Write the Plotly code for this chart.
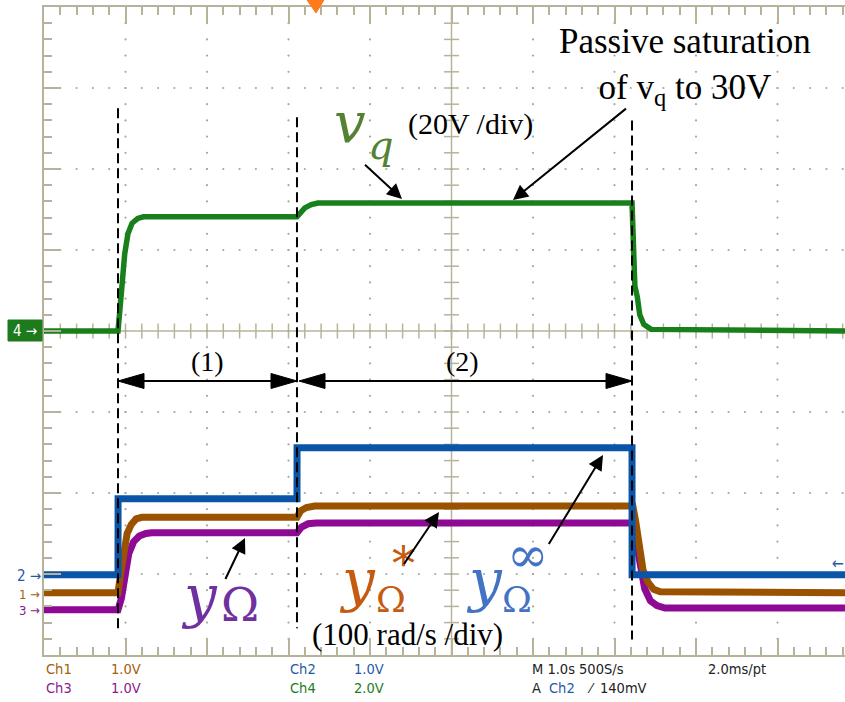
import plotly.graph_objects as go

# ---------------- data (scope screen, 1 s/div, values in divisions) ----------------
t_ch4 = [0, 0.908, 0.93, 0.96, 0.99, 1.03, 1.08, 1.15, 1.22, 3.104, 3.14, 3.2, 3.28, 3.36,
         7.215, 7.225, 7.25, 7.28, 7.31, 7.36, 7.45, 9.83]
v_ch4 = [0.0, 0.0, 0.25, 0.65, 0.95, 1.2, 1.33, 1.39, 1.41, 1.41, 1.46, 1.52, 1.56, 1.58,
         1.58, 1.2, 0.55, 0.42, 0.2, 0.08, 0.02, 0.0]

t_ch2 = [0, 0.908, 0.909, 3.104, 3.105, 7.215, 7.216, 9.83]
v_ch2 = [-3.01, -3.01, -2.07, -2.07, -1.44, -1.44, -3.01, -3.01]

t_ch1 = [0, 0.908, 0.94, 0.98, 1.02, 1.07, 1.13, 1.2, 3.104, 3.15, 3.22, 3.32,
         7.225, 7.26, 7.3, 7.35, 7.41, 7.48, 7.56, 9.83]
v_ch1 = [-3.23, -3.23, -3.0, -2.7, -2.5, -2.39, -2.32, -2.3, -2.3, -2.22, -2.18, -2.16,
         -2.16, -2.35, -2.7, -2.95, -3.1, -3.19, -3.22, -3.23]

t_ch3 = [0, 0.908, 0.95, 0.99, 1.04, 1.1, 1.17, 1.25, 1.32, 3.104, 3.16, 3.24, 3.34,
         7.225, 7.26, 7.31, 7.37, 7.44, 7.52, 7.62, 9.83]
v_ch3 = [-3.44, -3.44, -3.3, -3.0, -2.75, -2.6, -2.53, -2.5, -2.49, -2.49, -2.42, -2.38, -2.37,
         -2.37, -2.55, -2.9, -3.18, -3.33, -3.39, -3.42, -3.42]

event_times = [0.908, 3.104, 7.215]
event_tops = [2.75, 2.64, 2.60]
event_bottoms = [-3.67, -3.67, -3.81]

bottom_row1 = [("Ch1", "orange"), ("1.0V", "orange"), ("Ch2", "blue"), ("1.0V", "blue"),
               ("M 1.0s 500S/s", "black"), ("2.0ms/pt", "black")]
bottom_row2 = [("Ch3", "purple"), ("1.0V", "purple"), ("Ch4", "green"), ("2.0V", "green"),
               ("A", "black"), ("Ch2", "blue"), ("⁄", "black"), ("140mV", "black")]

# ---------------- geometry / style ----------------
W, H = 845, 702
L, R, T, B = 44, 0, 7, 47
PW, PH = W - L - R, H - T - B
DIVX = 81.5
XMAX = PW / DIVX


def px(x):
    return (x - L) / PW


def py(y):
    return (H - B - y) / PH


C_GRAT = "#b7b39b"
C_DOT = "#a8a8a0"
COL = {"orange": "#a5600a", "blue": "#1f5aa8", "purple": "#8c1a8c", "green": "#237d23", "black": "#222222"}

fig = go.Figure()

# graticule: centre cross with ticks
gx, gy = [], []


def seg(x0, y0, x1, y1):
    gx.extend([x0, x1, None])
    gy.extend([y0, y1, None])


seg(5, -4, 5, 4)
seg(0, 0, 10, 0)
tx = 7.5 / DIVX
ty = 7.5 / 81
for k in range(1, 40):
    yy = -4 + 0.2 * k
    seg(5 - tx, yy, 5 + tx, yy)
for k in range(1, 50):
    xx = 0.2 * k
    seg(xx, -ty, xx, ty)
fig.add_trace(go.Scatter(x=gx, y=gy, mode="lines", line=dict(color=C_GRAT, width=1.5),
                         hoverinfo="skip", showlegend=False))

dx, dy = [], []
for i in range(1, 10):
    if i == 5:
        continue
    for k in range(1, 40):
        dx.append(i)
        dy.append(-4 + 0.2 * k)
for j in range(-3, 4):
    if j == 0:
        continue
    for k in range(1, 50):
        dx.append(0.2 * k)
        dy.append(j)
fig.add_trace(go.Scatter(x=dx, y=dy, mode="markers", marker=dict(color=C_DOT, size=2.2),
                         hoverinfo="skip", showlegend=False))

# traces
fig.add_trace(go.Scatter(x=t_ch4, y=v_ch4, mode="lines", line=dict(color="#17801a", width=5.5),
                         showlegend=False, name="Ch4"))
fig.add_trace(go.Scatter(x=t_ch3, y=v_ch3, mode="lines", line=dict(color="#8e0a94", width=7),
                         showlegend=False, name="Ch3"))
fig.add_trace(go.Scatter(x=t_ch1, y=v_ch1, mode="lines", line=dict(color="#9a5200", width=7),
                         showlegend=False, name="Ch1"))
fig.add_trace(go.Scatter(x=t_ch2, y=v_ch2, mode="lines", line=dict(color="#0a55a8", width=7),
                         showlegend=False, name="Ch2"))

shapes = []
# dashed event lines
for t, y0, y1 in zip(event_times, event_tops, event_bottoms):
    shapes.append(dict(type="line", xref="x", yref="y", x0=t, x1=t, y0=y0, y1=y1,
                       line=dict(color="black", width=2, dash="10px,5px")))


def tri(tip, base_x, half):
    x0, y0 = tip
    return dict(type="path", xref="paper", yref="paper",
                path=f"M {px(x0)} {py(y0)} L {px(base_x)} {py(y0 - half)} L {px(base_x)} {py(y0 + half)} Z",
                fillcolor="black", line=dict(color="black", width=1))


# double arrows between event lines
ya = 381
for xa, xb in [(118, 297), (299, 632)]:
    shapes.append(dict(type="line", xref="paper", yref="paper", x0=px(xa + 10), x1=px(xb - 10),
                       y0=py(ya), y1=py(ya), line=dict(color="black", width=2)))
    shapes.append(tri((xa, ya), xa + 26, 7.5))
    shapes.append(tri((xb, ya), xb - 26, 7.5))

# channel 4 marker box
shapes.append(dict(type="rect", xref="paper", yref="paper", x0=px(8), x1=px(42), y0=py(341), y1=py(320),
                   fillcolor="#1d7a1d", line=dict(color="#1d7a1d", width=1)))
# trigger position triangle
shapes.append(dict(type="path", xref="paper", yref="paper",
                   path=f"M {px(307)} {py(0)} L {px(324)} {py(0)} L {px(316)} {py(13)} Z",
                   fillcolor="#ff7a1a", line=dict(color="#ff7a1a", width=1)))

ann = []


def text(x, y, s, size, color="black", family="Liberation Serif", xanchor="center", yanchor="middle"):
    ann.append(dict(x=px(x), y=py(y), xref="paper", yref="paper", text=s, showarrow=False,
                    font=dict(size=size, color=color, family=family), xanchor=xanchor, yanchor=yanchor))


def arrow(tail, tip, size=1.5):
    ann.append(dict(x=px(tip[0]), y=py(tip[1]), xref="paper", yref="paper", text=" ",
                    font=dict(size=2),
                    showarrow=True, arrowhead=2, arrowsize=size, arrowwidth=2, arrowcolor="black",
                    ax=tail[0] - tip[0], ay=tail[1] - tip[1], standoff=0))


MATH = "DejaVu Serif"
text(207, 361, "(1)", 28)
text(463, 361, "(2)", 28)
text(470, 124, "(20V /div)", 30)
text(407, 634, "(100 rad/s /div)", 31)
text(685, 67, "Passive saturation<br>of v<sub>q</sub> to 30V", 35)

# math labels
text(350, 122, "<i>v</i>", 56, "#548235", MATH)
text(381, 145, "<i>q</i>", 40, "#548235", MATH)
text(199, 596, "<i>y</i>", 58, "#7030a0", MATH)
text(240, 605, "Ω", 46, "#7030a0", MATH)
text(357, 580, "<i>y</i>", 58, "#c55a11", MATH)
text(391, 599, "Ω", 36, "#c55a11", MATH)
text(403, 564, "*", 46, "#c55a11", MATH)
text(484, 580, "<i>y</i>", 58, "#4472c4", MATH)
text(517, 599, "Ω", 36, "#4472c4", MATH)
text(528, 555, "∞", 50, "#4472c4", MATH)

arrow((363, 163), (402, 199))
arrow((628, 107), (513, 200))
arrow((224, 582), (245, 538))
arrow((402, 567), (439, 512))
arrow((547, 547), (603, 455))

# left channel markers
SC = "Liberation Sans Narrow, DejaVu Sans Condensed, Arial Narrow, sans-serif"
text(25, 331, "4 →", 15, "white", SC)
text(29, 576, "2 →", 15, COL["blue"], SC)
text(29, 594, "1 →", 13, COL["orange"], SC)
text(29, 610, "3 →", 13, COL["purple"], SC)
text(838, 563, "←", 16, COL["blue"], SC)

# bottom status text
row1_x = [44, 109, 288, 352, 530, 706]
row2_x = [44, 109, 288, 352, 530, 547, 585, 598]
for (s, c), x in zip(bottom_row1, row1_x):
    text(x, 669, s, 14.5, COL[c], SC, xanchor="left")
for (s, c), x in zip(bottom_row2, row2_x):
    text(x, 688, s, 14.5, COL[c], SC, xanchor="left")

fig.update_layout(
    width=W, height=H, margin=dict(l=L, r=R, t=T, b=B, pad=0),
    paper_bgcolor="white", plot_bgcolor="white",
    shapes=shapes, annotations=ann, showlegend=False,
    xaxis=dict(range=[0, XMAX], showgrid=False, zeroline=False, showticklabels=False,
               showline=True, linecolor=C_GRAT, linewidth=2, mirror="ticks",
               ticks="inside", ticklen=17, tickwidth=1.5, tickcolor=C_GRAT, dtick=1, tick0=0,
               minor=dict(ticks="inside", ticklen=8, tickwidth=1.5, tickcolor=C_GRAT, dtick=0.2, tick0=0)),
    yaxis=dict(range=[-4, 4], showgrid=False, zeroline=False, showticklabels=False,
               showline=True, linecolor=C_GRAT, linewidth=2, mirror=False,
               ticks="inside", ticklen=17, tickwidth=1.5, tickcolor=C_GRAT, dtick=1, tick0=0,
               minor=dict(ticks="inside", ticklen=8, tickwidth=1.5, tickcolor=C_GRAT, dtick=0.2, tick0=0)),
)

fig.write_html("out.html")
